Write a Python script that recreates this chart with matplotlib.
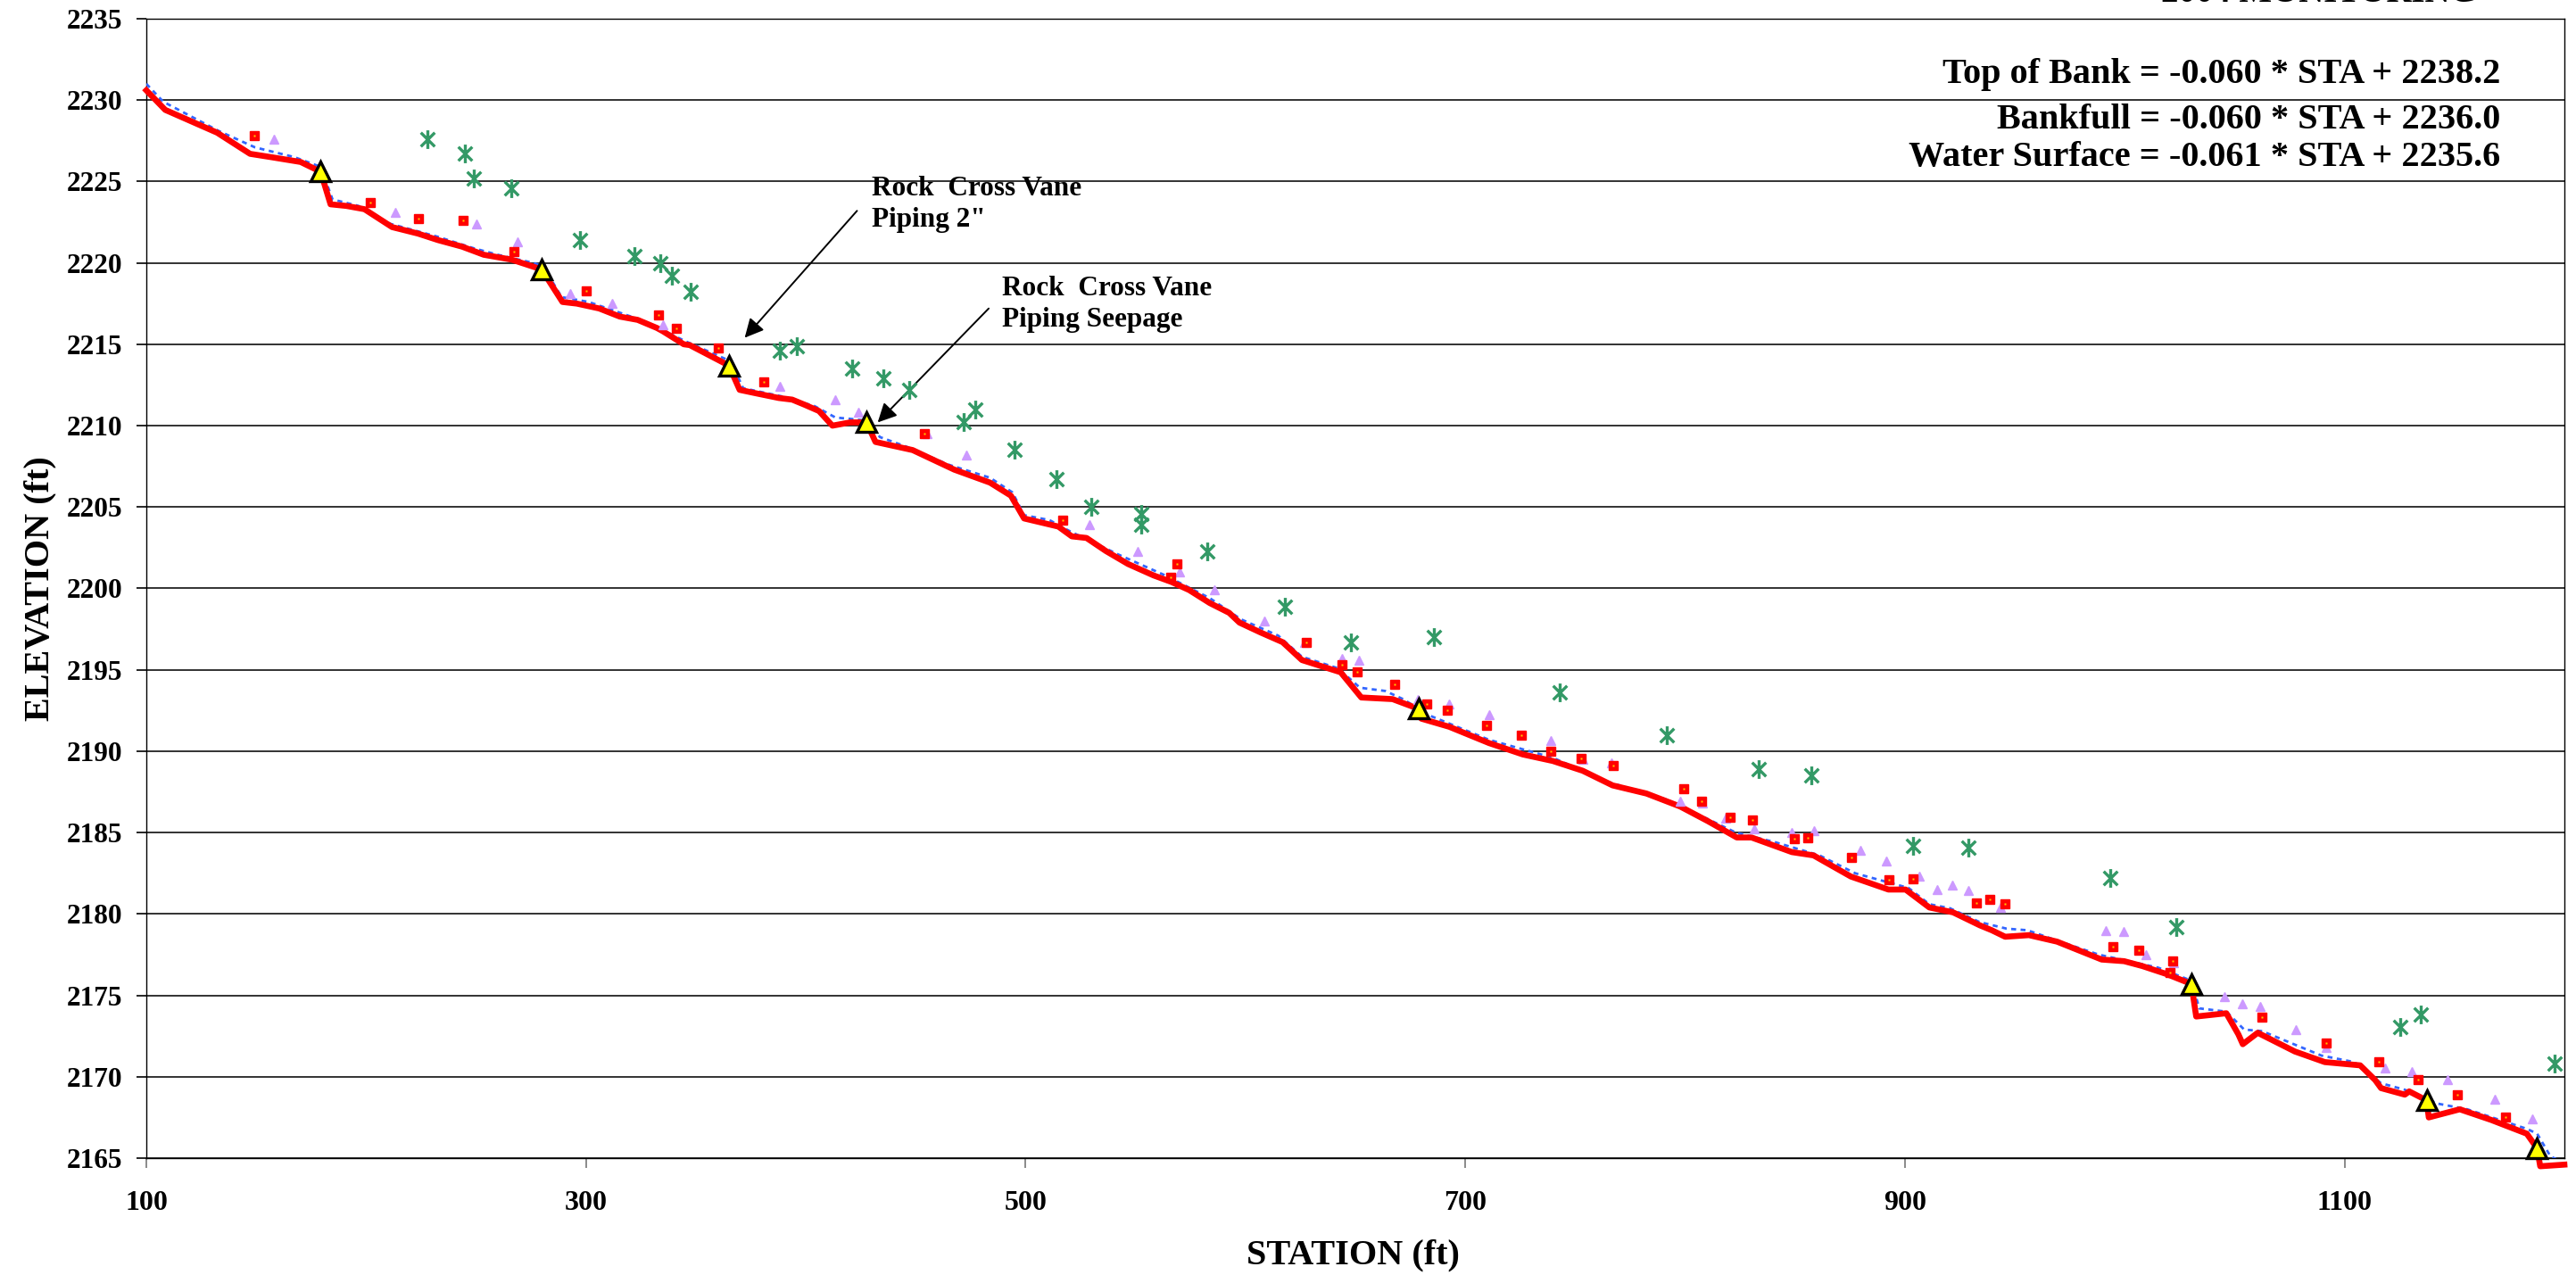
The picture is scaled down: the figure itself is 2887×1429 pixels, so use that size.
import matplotlib
matplotlib.use("Agg")
from matplotlib import pyplot as plt
from matplotlib.path import Path

plt.rcParams['font.family'] = ['Liberation Serif', 'DejaVu Serif']
plt.rcParams['font.weight'] = 'bold'

# Thalweg (bed) profile
bed_sta = [100, 108.6, 132.2, 147.2, 156.6, 170.2, 179.3, 183.8, 191, 199.2, 211.8, 223.6, 232.7,
           243.6, 253.5, 266.2, 279.8, 289.3, 295.8, 306, 315.4, 323.5, 332.3, 335, 344.5, 347.2,
           362.1, 365, 369.9, 376.9, 387.7, 393.8, 399.2, 406, 412.1, 420.2, 427.6, 431.7, 448.6,
           467.5, 483.8, 493.3, 499.3, 514.9, 521, 527.7, 536.5, 546.6, 558.2, 566.3, 574.4, 583.8,
           592.6, 597.3, 606.8, 616.9, 625.7, 643.3, 652.7, 666.9, 678.8, 680, 692.7, 710.8, 726.2,
           739.8, 753.4, 767, 782.4, 797.8, 810.4, 823.5, 830.2, 848.6, 858.4, 875.4, 892.5, 900.3,
           911.1, 921.9, 934.1, 939.5, 945.6, 956.4, 969.2, 989.5, 999.7, 1008, 1019.2, 1030.3,
           1032.5, 1046.2, 1051.7, 1053.7, 1060.5, 1077.4, 1091, 1107.1, 1113.9, 1116.6, 1127.4,
           1129.4, 1137.3, 1138.3, 1152.4, 1166.6, 1182.9, 1187.6, 1189, 1200]
bed_elev = [2230.6, 2229.4, 2228.0, 2226.7, 2226.5, 2226.2, 2225.6, 2223.6, 2223.5, 2223.3, 2222.2,
            2221.8, 2221.4, 2221.0, 2220.5, 2220.2, 2219.6, 2217.6, 2217.5, 2217.2, 2216.7, 2216.5,
            2216.0, 2215.8, 2215.0, 2214.95, 2213.9, 2213.7, 2212.2, 2212.0, 2211.7, 2211.6, 2211.3,
            2210.9, 2210.0, 2210.2, 2210.2, 2209.0, 2208.5, 2207.3, 2206.5, 2205.7, 2204.3, 2203.8,
            2203.2, 2203.1, 2202.3, 2201.5, 2200.8, 2200.4, 2199.9, 2199.1, 2198.5, 2197.9, 2197.3,
            2196.7, 2195.6, 2194.85, 2193.3, 2193.2, 2192.6, 2192.0, 2191.5, 2190.5, 2189.8, 2189.4,
            2188.8, 2187.9, 2187.4, 2186.6, 2185.7, 2184.7, 2184.7, 2183.8, 2183.6, 2182.3, 2181.5,
            2181.5, 2180.4, 2180.1, 2179.3, 2179.0, 2178.6, 2178.7, 2178.3, 2177.2, 2177.1, 2176.8,
            2176.3, 2175.7, 2173.7, 2173.9, 2172.6, 2172.0, 2172.7, 2171.55, 2170.9, 2170.7, 2169.8,
            2169.3, 2168.9, 2169.1, 2168.55, 2167.5, 2168.0, 2167.35, 2166.5, 2165.6, 2164.5, 2164.6]

# Water surface
ws_sta = [100, 107.7, 133, 149.4, 167.3, 179.3, 184.7, 196.5, 211, 232.7, 248.9, 259.8, 276, 280.5,
          288.9, 301.2, 312, 326.9, 345, 363.4, 366, 371.5, 389.1, 404, 413.5, 421.6, 428, 433.7,
          445.9, 465, 483.8, 494, 499.3, 510.8, 520.3, 541.9, 563.5, 583.8, 598, 614.9, 625.7, 642,
          652.1, 663.6, 671.7, 683.6, 710.8, 739.8, 765.2, 792.3, 823.1, 841.2, 861.1, 877.4, 901.6,
          911.1, 920.5, 934, 946.2, 955.7, 970.6, 988.2, 1015.2, 1030.3, 1033.9, 1046.2, 1054.3,
          1062.5, 1089.5, 1104.4, 1116.6, 1127.4, 1142.3, 1155.8, 1182.9, 1187.6, 1193.7, 1200]
ws_elev = [2231.0, 2229.9, 2228.1, 2227.1, 2226.5, 2225.9, 2223.9, 2223.5, 2222.4, 2221.6, 2220.9,
           2220.5, 2220.0, 2219.8, 2217.9, 2217.6, 2217.1, 2216.4, 2215.2, 2214.1, 2213.9, 2212.3,
           2211.8, 2211.2, 2210.5, 2210.4, 2210.3, 2209.3, 2208.7, 2207.6, 2206.8, 2205.9, 2204.5,
           2204.2, 2203.5, 2202.1, 2200.8, 2199.4, 2198.1, 2197.1, 2195.8, 2195.1, 2193.9, 2193.7,
           2193.2, 2192.2, 2190.7, 2189.6, 2188.1, 2187.0, 2185.0, 2184.4, 2183.6, 2182.5, 2181.6,
           2180.6, 2180.35, 2179.5, 2179.1, 2179.0, 2178.3, 2177.5, 2176.7, 2175.9, 2174.2, 2174.0,
           2172.9, 2172.8, 2171.3, 2170.9, 2169.6, 2169.2, 2168.35, 2168.0, 2166.8, 2166.5, 2165.1,
           2164.7]

# Bankfull points (red squares)
bkf_sta = [149, 201.9, 224, 243.9, 267.1, 300.1, 333.1, 341.1, 360, 381, 454, 516.9, 565.9, 568.8,
           627.8, 643.8, 650.8, 667.7, 682.5, 691.8, 709.7, 725.6, 738.7, 752.8, 767.5, 799.5, 807.6,
           820.6, 830.6, 849.6, 855.6, 875.7, 892.7, 903.6, 932.7, 938.5, 945.6, 994.5, 1006.4,
           1020.6, 1021.7, 1062.5, 1091.6, 1115.5, 1133.5, 1151.3, 1173.4]
bkf_elev = [2227.8, 2223.7, 2222.7, 2222.6, 2220.7, 2218.3, 2216.8, 2216.0, 2214.8, 2212.7, 2209.5,
            2204.2, 2200.7, 2201.5, 2196.7, 2195.3, 2194.9, 2194.1, 2192.9, 2192.5, 2191.6, 2191.0,
            2190.0, 2189.55, 2189.1, 2187.7, 2186.9, 2185.95, 2185.8, 2184.65, 2184.7, 2183.5,
            2182.1, 2182.15, 2180.7, 2180.9, 2180.6, 2178.0, 2177.75, 2176.4, 2177.1, 2173.65,
            2172.05, 2170.9, 2169.8, 2168.9, 2167.5]

# Edge of water points (lavender triangles)
lav_sta = [158, 213.1, 250.1, 268.9, 292.8, 312, 335, 388, 413.2, 424, 455, 472.9, 529.1, 551, 569.9,
           585.8, 608.8, 626.8, 644, 651.8, 678.6, 692.7, 710.8, 738.9, 753.7, 766.6, 797.7, 807.7,
           818.5, 831.6, 848.5, 858.6, 879.8, 891.6, 906.5, 914.6, 921.7, 928.7, 943.5, 991.5, 999.5,
           1009.5, 1022.2, 1045.3, 1053.4, 1061.5, 1077.7, 1091.6, 1118.4, 1130.6, 1146.7, 1168.5,
           1185.4]
lav_elev = [2227.6, 2223.1, 2222.4, 2221.3, 2218.1, 2217.5, 2216.2, 2212.4, 2211.6, 2210.8, 2209.5,
            2208.2, 2203.9, 2202.3, 2201.0, 2199.9, 2198.0, 2196.7, 2195.7, 2195.6, 2193.2, 2192.9,
            2192.25, 2190.65, 2189.5, 2189.3, 2186.9, 2186.8, 2185.9, 2185.2, 2185.0, 2185.1, 2183.9,
            2183.25, 2182.3, 2181.5, 2181.75, 2181.45, 2180.4, 2179.0, 2178.9, 2177.5, 2177.0,
            2174.9, 2174.5, 2174.3, 2172.9, 2171.8, 2170.55, 2170.3, 2169.8, 2168.6, 2167.4]

# Top of bank points (green asterisks)
tob_sta = [227.8, 244.8, 249, 266.2, 297.2, 322.2, 334, 339.1, 347.5, 388, 396.1, 420.9, 435.1, 447,
           471.9, 477, 495, 513.9, 530, 552.7, 552.7, 582.8, 617.9, 648, 685.8, 742.8, 791.8, 833.6,
           857.6, 903.5, 928.7, 993.5, 1023.6, 1125.4, 1134.5, 1195.7]
tob_elev = [2227.6, 2226.7, 2225.2, 2224.6, 2221.4, 2220.4, 2220.0, 2219.2, 2218.2, 2214.6, 2214.9,
            2213.5, 2212.9, 2212.2, 2210.2, 2211.0, 2208.5, 2206.7, 2205.0, 2204.6, 2203.9, 2202.3,
            2198.9, 2196.7, 2197.0, 2193.6, 2191.0, 2188.9, 2188.5, 2184.2, 2184.1, 2182.2, 2179.2,
            2173.05, 2173.8, 2170.8]

# Structures (yellow triangles)
str_sta = [179.3, 279.8, 365, 427.6, 678.8, 1030.3, 1137.3, 1187.6]
str_elev = [2225.6, 2219.6, 2213.7, 2210.2, 2192.6, 2175.7, 2168.55, 2165.6]

equations = ["Top of Bank = -0.060 * STA + 2238.2",
             "Bankfull = -0.060 * STA + 2236.0",
             "Water Surface = -0.061 * STA + 2235.6"]
eq_y = [2231.55, 2228.8, 2226.5]

fig = plt.figure(figsize=(28.87, 14.29), dpi=100)
ax = fig.add_axes([164 / 2887, 1 - 1298 / 1429, 2710 / 2887, 1277 / 1429])

# asterisk marker: vertical bar plus an X
star = Path([(0, -1), (0, 1), (-0.75, -0.75), (0.75, 0.75), (-0.75, 0.75), (0.75, -0.75)],
            [Path.MOVETO, Path.LINETO] * 3)

ax.plot(ws_sta, ws_elev, color='#3366FF', lw=2.0, dashes=(2.0, 1.8), zorder=3)
ax.plot(bed_sta, bed_elev, color='#FF0000', lw=4.8, zorder=4, clip_on=False)
ax.plot(lav_sta, lav_elev, ls='none', marker='^', ms=7.5, mfc='#CC99FF', mec='#CC99FF', zorder=5)
ax.plot(bkf_sta, bkf_elev, ls='none', marker='s', ms=6.5, mfc='#FF0000', mec='#FF0000', zorder=6)
ax.plot(bkf_sta, bkf_elev, ls='none', marker='s', ms=1.5, mfc='#FFCC00', mec='none', zorder=7)
ax.plot(tob_sta, tob_elev, ls='none', marker=star, ms=15, mfc='none', mec='#339966',
        mew=2.4, zorder=6, clip_on=False)
ax.plot(str_sta, str_elev, ls='none', marker='^', ms=16, mfc='#FFFF00', mec='black',
        mew=2.4, zorder=8, clip_on=False)

ax.set_xlim(100, 1200)
ax.set_ylim(2165, 2235)
ax.set_xticks(range(100, 1200, 200))
ax.set_yticks(range(2165, 2240, 5))
ax.grid(axis='y', color='#222222', lw=1.3)
ax.set_axisbelow(True)
for s in ax.spines.values():
    s.set_color('black')
    s.set_linewidth(1.0)
ax.tick_params(axis='y', direction='out', length=8, width=1.2, colors='black', pad=11,
               labelsize=22.5)
ax.tick_params(axis='x', direction='out', length=8, width=1.2, color='#777777', pad=18,
               labelsize=23, labelcolor='black')
for lab in ax.get_xticklabels() + ax.get_yticklabels():
    lab.set_fontweight('bold')

ax.set_xlabel('STATION (ft)', fontsize=29, fontweight='bold')
ax.set_ylabel('ELEVATION (ft)', fontsize=29, fontweight='bold')
ax.xaxis.set_label_coords(0.499, -0.0705)
ax.yaxis.set_label_coords(-0.037, 0.5)

for t, y in zip(equations, eq_y):
    ax.text(0.9734, y, t, transform=ax.get_yaxis_transform(), ha='right', va='center',
            fontsize=29, fontweight='bold')

fig.text(0.9616, 0.9985, '2004 MONITORING', ha='right', va='baseline', fontsize=28,
         fontweight='bold')

ax.text(430, 2223.6, 'Rock  Cross Vane\nPiping 2"', ha='left', va='center', fontsize=22.5,
        fontweight='bold', linespacing=1.3)
ax.text(489.3, 2217.45, 'Rock  Cross Vane\nPiping Seepage', ha='left', va='center',
        fontsize=22.5, fontweight='bold', linespacing=1.3)
arrow = dict(arrowstyle='-|>', mutation_scale=32, lw=1.4, color='black', shrinkA=0, shrinkB=0)
ax.annotate('', xy=(372.2, 2215.4), xytext=(423.3, 2223.2), arrowprops=arrow)
ax.annotate('', xy=(432.7, 2210.2), xytext=(483.2, 2217.2), arrowprops=arrow)

fig.savefig('out.png', dpi=100)
